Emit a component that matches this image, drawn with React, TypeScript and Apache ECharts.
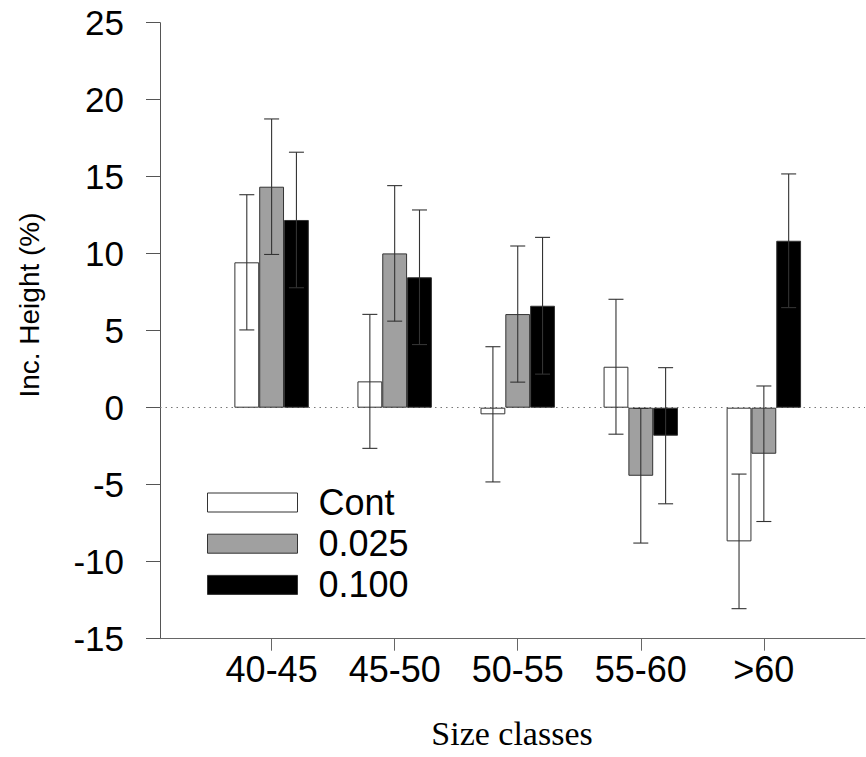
import React, { useEffect, useRef } from "react";
import * as echarts from "echarts";

// ---------- data ----------
const categories = ["40-45", "45-50", "50-55", "55-60", ">60"];
const seriesNames = ["Cont", "0.025", "0.100"];
const contValues = [9.44, 1.71, -0.43, 2.66, -8.68];
const contErrors = [4.39, 4.35, 4.39, 4.38, 4.37];
const lowDoseValues = [14.35, 10.02, 6.08, -4.42, -2.99];
const lowDoseErrors = [4.4, 4.4, 4.42, 4.37, 4.4];
const highDoseValues = [12.19, 8.47, 6.62, -1.82, 10.84];
const highDoseErrors = [4.4, 4.37, 4.44, 4.42, 4.34];
const yMin = -15;
const yMax = 25;
const yInterval = 5;
const xAxisTitle = "Size classes";
const yAxisTitle = "Inc. Height (%)";

const SANS = "'Liberation Sans', Arial, Helvetica, sans-serif";
const SERIF = "'Liberation Serif', 'Times New Roman', serif";

export default function App() {
  const ref = useRef<HTMLDivElement>(null);

  useEffect(() => {
    document.body.style.margin = "0";
    if (!ref.current) return;
    const chart = echarts.init(ref.current, undefined, { renderer: "svg" });

    const positions = categories.map((_, i) => i + 1);
    const catGap = 0.395;
    const valueSets = [contValues, lowDoseValues, highDoseValues];
    const errorSets = [contErrors, lowDoseErrors, highDoseErrors];
    const fills = ["#ffffff", "#a0a0a0", "#000000"];

    const barSeries = valueSets.map((vals, s) => ({
      type: "bar",
      name: seriesNames[s],
      data: vals.map((v, i) => [positions[i], v]),
      barCategoryGap: (catGap * 100).toFixed(1) + "%",
      barGap: "0%",
      itemStyle: { color: fills[s], borderColor: "#333", borderWidth: 1 },
      emphasis: { disabled: true },
      z: 3,
      ...(s === 0
        ? {
            markLine: {
              silent: true,
              symbol: "none",
              label: { show: false },
              lineStyle: { type: [1.5, 4], color: "#777", width: 1.2 },
              data: [{ yAxis: 0 }],
              z: 1,
            },
          }
        : {}),
    }));

    const errorData: number[][] = [];
    valueSets.forEach((vals, s) => {
      vals.forEach((v, i) => {
        errorData.push([positions[i], v - errorSets[s][i], v + errorSets[s][i], s]);
      });
    });

    const legendFont = 36;
    const option: any = {
      animation: false,
      grid: { left: 160, top: 22.7, right: 1, bottom: 118.3, containLabel: false },
      legend: {
        data: seriesNames,
        orient: "vertical",
        left: 207,
        top: 493 - (legendFont - 19) / 2,
        itemWidth: 90,
        itemHeight: 19,
        itemGap: 41.2 - legendFont,
        icon: "rect",
        selectedMode: false,
        padding: 0,
        itemStyle: { borderColor: "#333", borderWidth: 1 },
        textStyle: {
          fontFamily: SANS,
          fontSize: legendFont,
          color: "#000",
          padding: [0, 0, 0, 16],
        },
      },
      xAxis: {
        type: "value",
        min: 0.093,
        max: 5.822,
        axisLine: { show: true, onZero: false, lineStyle: { color: "#666", width: 1 } },
        axisTick: {
          show: true,
          customValues: positions,
          length: 12,
          inside: false,
          lineStyle: { color: "#666", width: 1 },
        },
        axisLabel: {
          customValues: positions,
          formatter: (v: number) => categories[Math.round(v) - 1] ?? "",
          fontFamily: SANS,
          fontSize: 36,
          color: "#000",
          margin: 13,
        },
        splitLine: { show: false },
      },
      yAxis: {
        type: "value",
        min: yMin,
        max: yMax,
        interval: yInterval,
        axisLine: { show: true, onZero: false, lineStyle: { color: "#555", width: 1 } },
        axisTick: { show: true, length: 14, inside: false, lineStyle: { color: "#555", width: 1 } },
        axisLabel: { fontFamily: SANS, fontSize: 35, color: "#000", margin: 36 },
        splitLine: { show: false },
      },
      graphic: [
        {
          type: "text",
          x: 512,
          y: 733,
          style: {
            text: xAxisTitle,
            fontFamily: SERIF,
            fontSize: 34,
            fill: "#000",
            align: "center",
            verticalAlign: "middle",
          },
        },
        {
          type: "text",
          x: 29,
          y: 305,
          rotation: Math.PI / 2,
          style: {
            text: yAxisTitle,
            fontFamily: SANS,
            fontSize: 28,
            fill: "#000",
            align: "center",
            verticalAlign: "middle",
          },
        },
      ],
      series: [
        ...barSeries,
        {
          type: "custom",
          name: "errors",
          data: errorData,
          encode: { x: 0, y: [1, 2] },
          z: 10,
          silent: true,
          renderItem: (params: any, api: any) => {
            const x = api.value(0);
            const lo = api.value(1);
            const hi = api.value(2);
            const s = api.value(3);
            const band = api.size([1, 0])[0];
            const barW = (band * (1 - catGap)) / 3;
            const cx = api.coord([x, 0])[0] + (s - 1) * barW;
            const yLo = api.coord([x, lo])[1];
            const yHi = api.coord([x, hi])[1];
            const cap = 7.5;
            const st = { stroke: "#333", lineWidth: 1.1 };
            return {
              type: "group",
              children: [
                { type: "line", shape: { x1: cx, y1: yLo, x2: cx, y2: yHi }, style: st },
                { type: "line", shape: { x1: cx - cap, y1: yLo, x2: cx + cap, y2: yLo }, style: st },
                { type: "line", shape: { x1: cx - cap, y1: yHi, x2: cx + cap, y2: yHi }, style: st },
              ],
            };
          },
        },
      ],
    };

    chart.setOption(option);
    return () => chart.dispose();
  }, []);

  return <div ref={ref} style={{ width: 866, height: 757 }} />;
}
